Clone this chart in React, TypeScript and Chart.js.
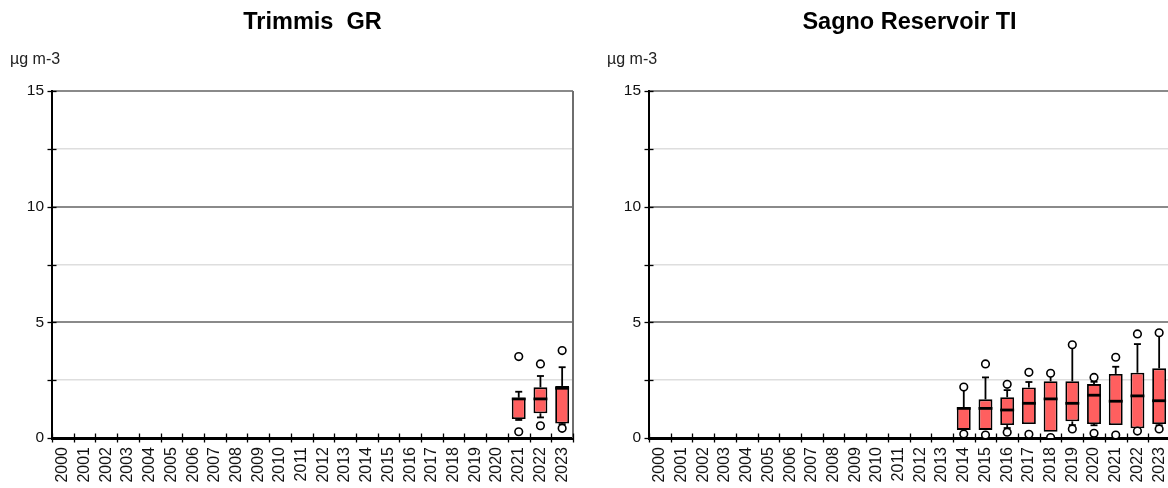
import { useEffect, useRef } from 'react';
import { Chart, registerables } from 'chart.js';

Chart.register(...registerables);

const FONT = "'Liberation Sans', Arial, Helvetica, sans-serif";

// Category axis: one slot per year
const categories = [
  '2000', '2001', '2002', '2003', '2004', '2005', '2006', '2007', '2008', '2009', '2010', '2011',
  '2012', '2013', '2014', '2015', '2016', '2017', '2018', '2019', '2020', '2021', '2022', '2023',
];

// Value axis ticks (µg m-3); only multiples of 5 are labelled
const yTickStep = 2.5;
const yMin = 0;
const yMax = 15;
const unitLabel = 'µg m-3';

// Trimmis GR
const trimmisTitle = 'Trimmis  GR';
const trimmisYears = ['2021', '2022', '2023'];
const trimmisWhiskerLow = [0.78, 0.89, 0.6];
const trimmisQ1 = [0.82, 1.07, 0.63];
const trimmisMedian = [1.69, 1.69, 2.15];
const trimmisQ3 = [1.74, 2.19, 2.25];
const trimmisWhiskerHigh = [2.0, 2.68, 3.06];
const trimmisOutlierHigh = [3.52, 3.2, 3.78];
const trimmisOutlierLow = [0.27, 0.53, 0.42];

// Sagno Reservoir TI
const sagnoTitle = 'Sagno Reservoir TI';
const sagnoYears = ['2014', '2015', '2016', '2017', '2018', '2019', '2020', '2021', '2022', '2023'];
const sagnoWhiskerLow = [0.35, 0.35, 0.43, 0.58, 0.27, 0.56, 0.55, 0.56, 0.42, 0.55];
const sagnoQ1 = [0.35, 0.35, 0.56, 0.6, 0.27, 0.72, 0.6, 0.56, 0.42, 0.6];
const sagnoMedian = [1.28, 1.28, 1.21, 1.5, 1.69, 1.5, 1.85, 1.59, 1.82, 1.61];
const sagnoQ3 = [1.33, 1.67, 1.76, 2.18, 2.45, 2.45, 2.33, 2.77, 2.82, 3.01];
const sagnoWhiskerHigh = [2.15, 2.62, 2.07, 2.42, 2.8, 3.98, 2.43, 3.08, 4.06, 4.53];
const sagnoOutlierHigh = [2.2, 3.2, 2.32, 2.84, 2.8, 4.03, 2.62, 3.49, 4.5, 4.55];
const sagnoOutlierLow = [0.17, 0.13, 0.25, 0.16, 0.02, 0.39, 0.2, 0.13, 0.3, 0.39];

type Station = {
  title: string;
  years: string[];
  whiskerLow: number[];
  q1: number[];
  median: number[];
  q3: number[];
  whiskerHigh: number[];
  outlierHigh: number[];
  outlierLow: number[];
};

const trimmis: Station = {
  title: trimmisTitle,
  years: trimmisYears,
  whiskerLow: trimmisWhiskerLow,
  q1: trimmisQ1,
  median: trimmisMedian,
  q3: trimmisQ3,
  whiskerHigh: trimmisWhiskerHigh,
  outlierHigh: trimmisOutlierHigh,
  outlierLow: trimmisOutlierLow,
};

const sagno: Station = {
  title: sagnoTitle,
  years: sagnoYears,
  whiskerLow: sagnoWhiskerLow,
  q1: sagnoQ1,
  median: sagnoMedian,
  q3: sagnoQ3,
  whiskerHigh: sagnoWhiskerHigh,
  outlierHigh: sagnoOutlierHigh,
  outlierLow: sagnoOutlierLow,
};

// Place per-station values into the full year axis (null where no data)
function spread(years: string[], values: number[]): (number | null)[] {
  return categories.map((c) => {
    const i = years.indexOf(c);
    return i >= 0 ? values[i] : null;
  });
}

function line(ctx: CanvasRenderingContext2D, x1: number, y1: number, x2: number, y2: number) {
  ctx.beginPath();
  ctx.moveTo(x1, y1);
  ctx.lineTo(x2, y2);
  ctx.stroke();
}

function makePlugins(s: Station) {
  const med = spread(s.years, s.median);
  const wLow = spread(s.years, s.whiskerLow);
  const wHigh = spread(s.years, s.whiskerHigh);
  const lo = spread(s.years, s.q1);
  const hi = spread(s.years, s.q3);

  // Whiskers, caps and median lines on top of the boxes
  const whiskers = {
    id: 'whiskers',
    afterDatasetDraw(chart: any, args: any) {
      if (args.index !== 0) return;
      const { ctx } = chart;
      const y = chart.scales.y;
      const meta = chart.getDatasetMeta(0);
      ctx.save();
      ctx.strokeStyle = '#000';
      meta.data.forEach((bar: any, i: number) => {
        if (med[i] == null) return;
        const x = bar.x;
        const half = bar.width / 2;
        const cap = 3.5;
        ctx.lineWidth = 1.8;
        const yq3 = y.getPixelForValue(hi[i]);
        const yq1 = y.getPixelForValue(lo[i]);
        const yh = y.getPixelForValue(wHigh[i]);
        const yl = y.getPixelForValue(wLow[i]);
        if (yh < yq3 - 0.5) {
          line(ctx, x, yq3, x, yh);
          line(ctx, x - cap, yh, x + cap, yh);
        }
        if (yl > yq1 + 0.5) {
          line(ctx, x, yq1, x, yl);
          line(ctx, x - cap, yl, x + cap, yl);
        }
        ctx.lineWidth = 2.8;
        const ym = y.getPixelForValue(med[i]);
        line(ctx, x - half, ym, x + half, ym);
      });
      ctx.restore();
    },
  };

  // Frame, tick crosses on both axes, title and unit label
  const decorations = {
    id: 'decorations',
    afterDraw(chart: any) {
      const { ctx, chartArea } = chart;
      const { left, right, top, bottom } = chartArea;
      const x = chart.scales.x;
      const y = chart.scales.y;
      ctx.save();
      ctx.strokeStyle = '#6e6e6e';
      ctx.lineWidth = 2;
      line(ctx, right, top, right, bottom);

      ctx.strokeStyle = '#000';
      ctx.lineWidth = 1.3;
      y.ticks.forEach((t: any) => {
        const yy = Math.round(y.getPixelForValue(t.value)) + 0.5;
        line(ctx, left - 4.5, yy, left + 4.5, yy);
      });
      for (let i = 0; i <= categories.length; i++) {
        const xx = Math.round(x.getPixelForValue(i - 0.5)) + 0.5;
        line(ctx, xx, bottom - 4.5, xx, bottom + 4.5);
      }

      ctx.fillStyle = '#000';
      ctx.textAlign = 'center';
      ctx.textBaseline = 'alphabetic';
      ctx.font = `bold 23.5px ${FONT}`;
      ctx.fillText(s.title, (left + right) / 2, 29);

      ctx.fillStyle = '#222';
      ctx.textAlign = 'left';
      ctx.font = `16px ${FONT}`;
      ctx.fillText(unitLabel, left - 42, 64);
      ctx.restore();
    },
  };

  return [whiskers, decorations];
}

function BoxChart({ station, left }: { station: Station; left: number }) {
  const ref = useRef<HTMLCanvasElement | null>(null);

  useEffect(() => {
    if (!ref.current) return;
    const boxes = categories.map((c) => {
      const i = station.years.indexOf(c);
      return i >= 0 ? [station.q1[i], station.q3[i]] : null;
    });

    const outlierStyle = {
      type: 'line' as const,
      showLine: false,
      pointRadius: 3.8,
      pointBackgroundColor: '#fff',
      pointBorderColor: '#000',
      pointBorderWidth: 1.6,
      order: 1,
    };

    const chart = new Chart(ref.current, {
      type: 'bar',
      data: {
        labels: categories,
        datasets: [
          {
            type: 'bar',
            data: boxes as any,
            backgroundColor: '#ff5f5f',
            borderColor: '#000',
            borderWidth: 1.8,
            borderSkipped: false,
            barPercentage: 0.64,
            categoryPercentage: 1,
            order: 2,
          },
          { ...outlierStyle, data: spread(station.years, station.outlierHigh) },
          { ...outlierStyle, data: spread(station.years, station.outlierLow) },
        ] as any,
      },
      options: {
        responsive: false,
        animation: false,
        events: [],
        layout: { padding: { top: 91, right: 18, bottom: 0, left: 0 } },
        plugins: {
          legend: { display: false },
          tooltip: { enabled: false },
          title: { display: false },
        },
        scales: {
          x: {
            offset: true,
            grid: { display: true, drawOnChartArea: false, drawTicks: false, offset: true },
            border: { display: true, color: '#000', width: 3 },
            ticks: {
              autoSkip: false,
              maxRotation: 90,
              minRotation: 90,
              padding: 9,
              color: '#111',
              font: { family: FONT, size: 16 },
            },
            afterFit: (scale: any) => {
              scale.height = 50;
            },
          },
          y: {
            min: yMin,
            max: yMax,
            grid: {
              drawTicks: false,
              color: (c: any) => (c.tick.value % 5 === 0 ? '#8a8a8a' : '#dedede'),
              lineWidth: (c: any) => (c.tick.value % 5 === 0 ? 2 : 1.5),
            },
            border: { display: true, color: '#000', width: 2 },
            ticks: {
              stepSize: yTickStep,
              padding: 8,
              color: '#111',
              font: { family: FONT, size: 15.5 },
              callback: (v: any) => (Number(v) % 5 === 0 ? String(v) : ''),
            },
            afterFit: (scale: any) => {
              scale.width = 52;
            },
          },
        },
      },
      plugins: makePlugins(station),
    });
    return () => chart.destroy();
  }, [station]);

  return (
    <canvas
      ref={ref}
      width={591}
      height={488}
      style={{ position: 'absolute', left, top: 0, width: 591, height: 488 }}
    />
  );
}

export default function App() {
  return (
    <div
      style={{
        position: 'fixed',
        left: 0,
        top: 0,
        width: 1168,
        height: 488,
        overflow: 'hidden',
        background: '#fff',
      }}
    >
      <BoxChart station={trimmis} left={0} />
      <BoxChart station={sagno} left={597} />
    </div>
  );
}
